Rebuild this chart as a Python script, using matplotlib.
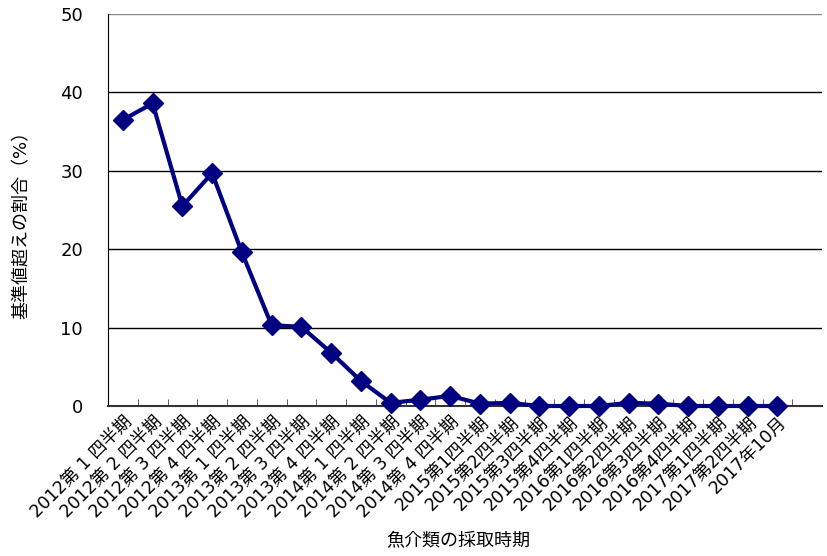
import numpy as np
import matplotlib
matplotlib.use('Agg')
import matplotlib.pyplot as plt

plt.rcParams['font.family'] = ['DejaVu Sans', 'Noto Sans CJK JP']

labels = ['2012第 1 四半期', '2012第 2 四半期', '2012第 3 四半期', '2012第 4 四半期',
          '2013第 1 四半期', '2013第 2 四半期', '2013第 3 四半期', '2013第 4 四半期',
          '2014第 1 四半期', '2014第 2 四半期', '2014第 3 四半期', '2014第 4 四半期',
          '2015第1四半期', '2015第2四半期', '2015第3四半期', '2015第4四半期',
          '2016第1四半期', '2016第2四半期', '2016第3四半期', '2016第4四半期',
          '2017第1四半期', '2017第2四半期', '2017年10月']
values = [36.5, 38.6, 25.5, 29.7, 19.6, 10.3, 10.1, 6.8, 3.2, 0.4, 0.8, 1.3,
          0.3, 0.4, 0.0, 0.0, 0.0, 0.4, 0.3, 0.0, 0.0, 0.0, 0.0]

fig = plt.figure(figsize=(8.28, 5.56), dpi=100)
ax = fig.add_axes([108/828, 1-406/556, (822-108)/828, (406-14)/556])

x = np.arange(len(values))
ax.plot(x, values, color='#000080', lw=3, marker='D', ms=10, zorder=3, clip_on=False)

ax.set_xlim(-0.5, len(values) + 0.5)
ax.set_ylim(0, 50)
ax.set_yticks(range(0, 51, 10))
ax.tick_params(axis='y', labelsize=13, length=0, pad=18)
ax.yaxis.grid(True, color='black', lw=1)
ax.set_axisbelow(True)

ax.set_xticks(np.arange(-0.5, len(values) + 0.5, 1), minor=True)
ax.set_xticks(x)
ax.set_xticklabels(labels, rotation=45, ha='right', va='top', rotation_mode='anchor', fontsize=12.5)
ax.tick_params(axis='x', which='major', length=0, pad=5)
ax.tick_params(axis='x', which='minor', direction='in', length=5, color='#444444')

for s in ['top', 'right']:
    ax.spines[s].set_visible(False)
ax.spines['left'].set_color('black')
ax.spines['bottom'].set_color('#333333')
ax.spines['bottom'].set_linewidth(1.5)
ax.get_ygridlines()[-1].set_color('#888888')

ax.set_ylabel('基準値超えの割合（%）', fontsize=13)
ax.yaxis.set_label_coords(-0.108, 0.474)
ax.set_xlabel('魚介類の採取時期', fontsize=13)
ax.xaxis.set_label_coords(0.49, -0.322)

fig.savefig('out.png', dpi=100)
